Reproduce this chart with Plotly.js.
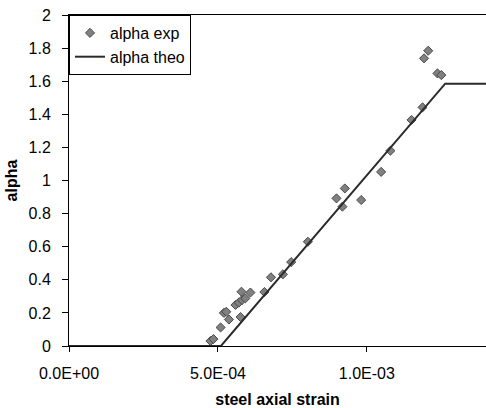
<!DOCTYPE html>
<html>
<head>
<meta charset="utf-8">
<script src="https://cdn.plot.ly/plotly-3.0.1.min.js"></script>
<style>html,body{margin:0;padding:0;background:#fff;}#chart{width:486px;height:408px;}</style>
</head>
<body>
<div id="chart"></div>
<script>
var expStrain = [4.75e-4, 4.85e-4, 5.09e-4, 5.20e-4, 5.28e-4, 5.37e-4, 5.59e-4, 5.70e-4, 5.76e-4, 5.81e-4, 5.92e-4, 5.79e-4, 6.09e-4, 6.56e-4, 6.78e-4, 7.18e-4, 7.46e-4, 8.02e-4, 8.98e-4, 9.18e-4, 9.26e-4, 9.81e-4, 1.048e-3, 1.079e-3, 1.150e-3, 1.187e-3, 1.192e-3, 1.206e-3, 1.237e-3, 1.250e-3];
var expAlpha  = [0.030, 0.042, 0.112, 0.200, 0.207, 0.160, 0.248, 0.262, 0.175, 0.278, 0.288, 0.328, 0.323, 0.326, 0.415, 0.433, 0.507, 0.630, 0.892, 0.842, 0.952, 0.882, 1.052, 1.180, 1.366, 1.442, 1.738, 1.784, 1.647, 1.637];
var theoStrain = [0, 5.1e-4, 1.263e-3, 1.4e-3];
var theoAlpha  = [0, 0, 1.585, 1.585];
var xTickVals = [0, 5e-4, 1e-3];
var xTickText = ["0.0E+00", "5.0E-04", "1.0E-03"];
var yTickVals = [0, 0.2, 0.4, 0.6, 0.8, 1, 1.2, 1.4, 1.6, 1.8, 2];
var yTickText = ["0", "0.2", "0.4", "0.6", "0.8", "1", "1.2", "1.4", "1.6", "1.8", "2"];

var traces = [
  {
    x: expStrain, y: expAlpha, name: "alpha exp", type: "scatter", mode: "markers",
    marker: {symbol: "diamond", size: 7, color: "#808080", line: {color: "#4a4a4a", width: 1}},
    cliponaxis: false
  },
  {
    x: theoStrain, y: theoAlpha, name: "alpha theo", type: "scatter", mode: "lines",
    line: {color: "#2b2b2b", width: 2}
  }
];

var layout = {
  width: 486, height: 408,
  margin: {l: 69, r: 0, t: 15, b: 62},
  paper_bgcolor: "#fff", plot_bgcolor: "#fff",
  font: {family: "Liberation Sans, Arial, sans-serif", size: 16, color: "#000"},
  showlegend: true,
  legend: {x: 0, y: 1, xanchor: "left", yanchor: "top", bgcolor: "#fff",
           bordercolor: "#000", borderwidth: 1, font: {size: 16}, tracegroupgap: 0,
           itemwidth: 30},
  xaxis: {
    range: [0, 1.4e-3], tickmode: "array", tickvals: xTickVals, ticktext: xTickText,
    ticks: "outside", ticklen: 5, tickcolor: "#000", showgrid: false, zeroline: false,
    showline: true, linecolor: "#000", linewidth: 1, mirror: true,
    ticklabelstandoff: 8,
    title: {text: "<b>steel axial strain</b>", font: {size: 16}, standoff: 12}
  },
  yaxis: {
    range: [0, 2], tickmode: "array", tickvals: yTickVals, ticktext: yTickText,
    ticks: "outside", ticklen: 6, tickcolor: "#000", showgrid: false, zeroline: false,
    showline: true, linecolor: "#000", linewidth: 1, mirror: true,
    ticklabelstandoff: 8,
    title: {text: "<b>alpha</b>", font: {size: 16}, standoff: 6}
  }
};

Plotly.newPlot("chart", traces, layout, {displayModeBar: false, staticPlot: true});
</script>
</body>
</html>
